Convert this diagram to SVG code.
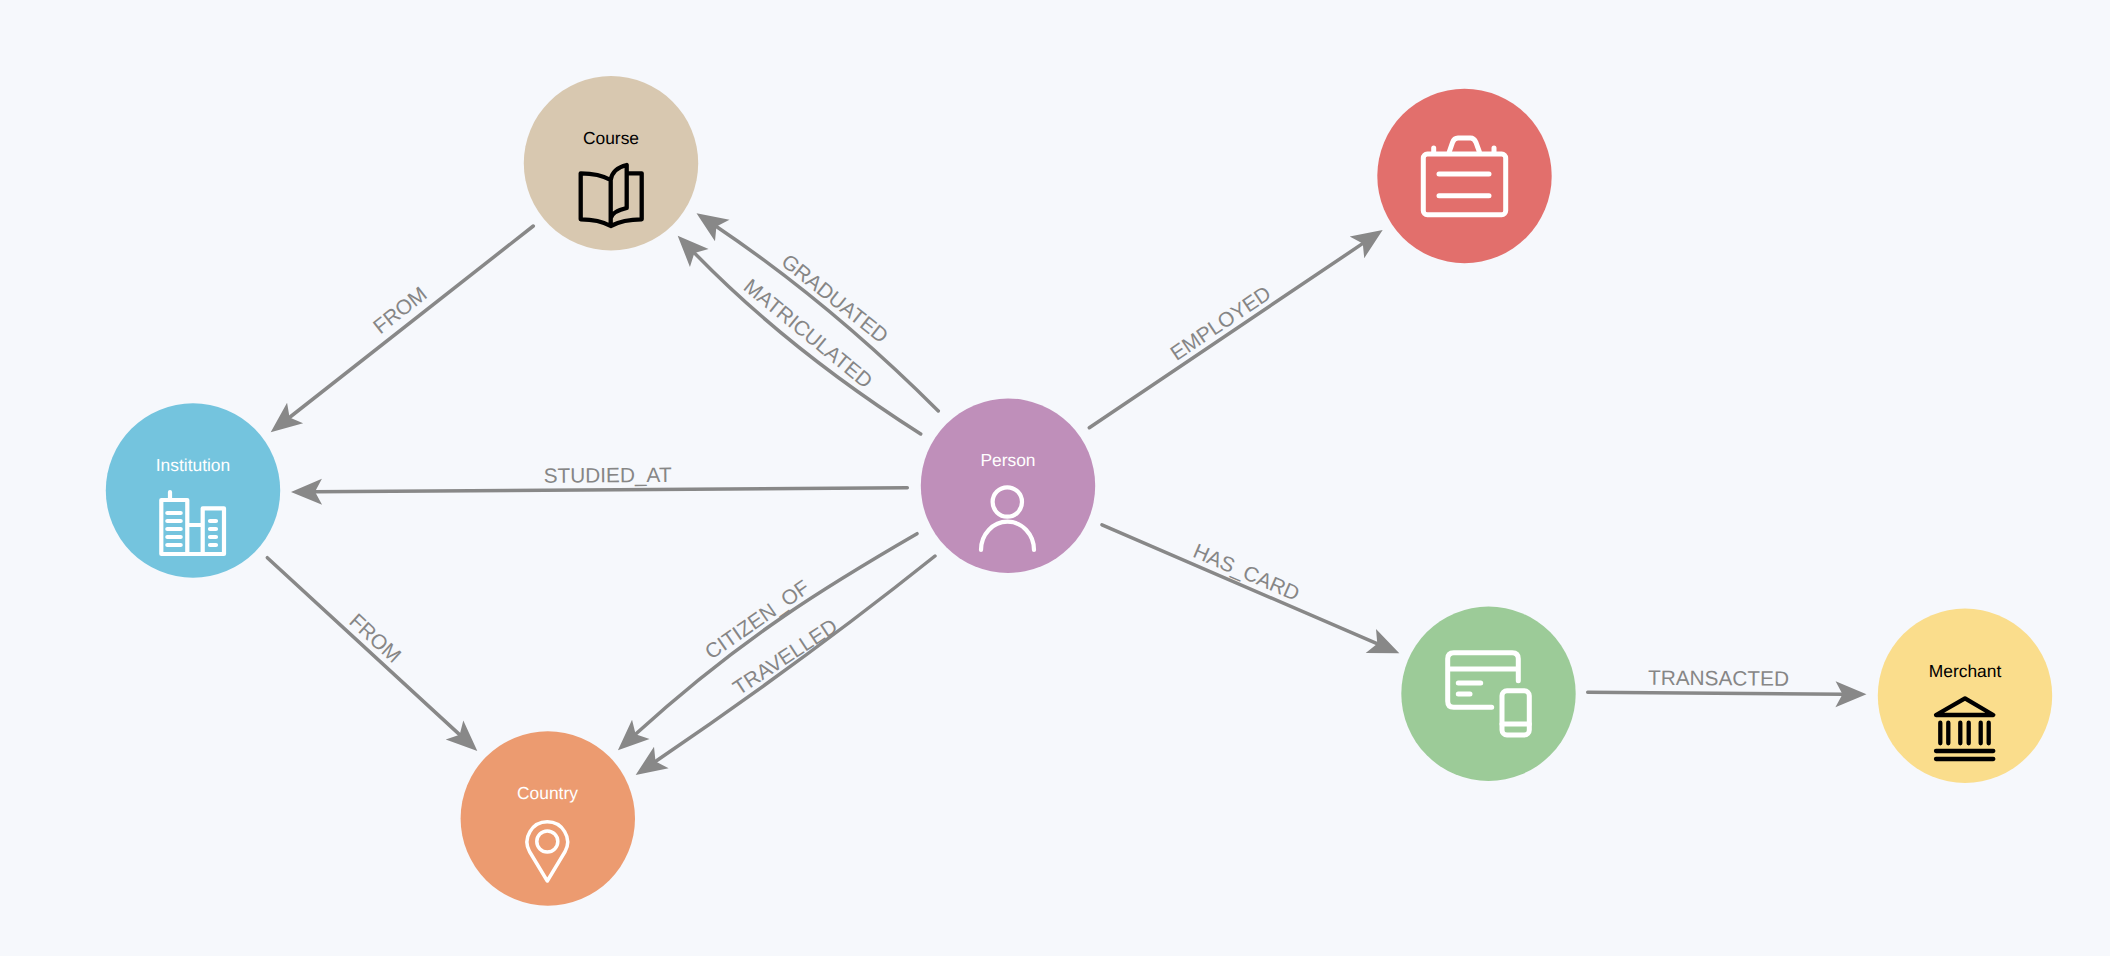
<svg xmlns="http://www.w3.org/2000/svg" width="2110" height="956" viewBox="0 0 2110 956">
<style>
text{font-family:"Liberation Sans",Arial,sans-serif;text-rendering:geometricPrecision}
.n{font-size:17.4px;text-anchor:middle}
.w{fill:#fff}
.k{fill:#000}
.l{font-size:20.8px;fill:#868686;text-anchor:middle}
.c{fill:none;stroke:#888;stroke-width:3.500;stroke-linecap:round;marker-end:url(#a)}
.iw{fill:none;stroke:#fff;stroke-width:4.200;stroke-linecap:round;stroke-linejoin:round}
.ik{fill:none;stroke:#000;stroke-width:4.300;stroke-linecap:round;stroke-linejoin:round}
</style>
<defs>
<marker id="a" markerUnits="userSpaceOnUse" markerWidth="40" markerHeight="32" refX="10" refY="16" orient="auto">
<path d="M33 16L2 3L9 16L2 29Z" fill="#888"/>
</marker>
</defs>
<rect width="2110" height="956" fill="#f6f8fc"/>
<g id="connectors">
<path class="c" d="M533.300 226L288.800 418"/>
<path class="c" d="M267.300 557.700L460.400 735.400"/>
<path class="c" d="M907.300 487.700L314 491.800"/>
<path class="c" d="M938.300 411Q830 303 715.600 226"/>
<path class="c" d="M920.700 434Q787.600 349 693.700 252.200"/>
<path class="c" d="M917 533.700C830 584 742 637 634.900 734.800"/>
<path class="c" d="M935 556C880 600 790 670 654.700 762"/>
<path class="c" d="M1089.300 427.700L1363.600 242.900"/>
<path class="c" d="M1102 524.800L1378.200 644.200"/>
<path class="c" d="M1587.700 692.300L1843.500 694.200"/>
<text class="l" transform="translate(399.700 310) rotate(-38.200)" dy=".35em">FROM</text>
<text class="l" transform="translate(375.400 638) rotate(42.600)" dy=".35em">FROM</text>
<text class="l" transform="translate(607.600 475) rotate(-.4)" dy=".35em">STUDIED_AT</text>
<text class="l" transform="translate(835 298.300) rotate(38.400)" dy=".35em">GRADUATED</text>
<text class="l" transform="translate(808.300 333.300) rotate(39.300)" dy=".35em">MATRICULATED</text>
<text class="l" transform="translate(757 619.500) rotate(-34.800)" dy=".35em">CITIZEN_OF</text>
<text class="l" transform="translate(785 656.700) rotate(-33.500)" dy=".35em">TRAVELLED</text>
<text class="l" transform="translate(1220.500 323) rotate(-33.800)" dy=".35em">EMPLOYED</text>
<text class="l" transform="translate(1246.500 572) rotate(23.400)" dy=".35em">HAS_CARD</text>
<text class="l" transform="translate(1718.500 678) rotate(.4)" dy=".35em">TRANSACTED</text>
</g>
<g id="course">
<circle cx="611" cy="163.300" r="87.200" fill="#d8c8b0"/>
<text class="n k" x="611" y="143.600">Course</text>
<path class="ik" d="M610.700 180C602 175 592 173.300 580.700 173.300V219.300C592 219.300 602 221 610.700 226C620 221 630 219.300 641.700 219.300V173.300H627.700M610.700 226V180C612 172 618 167 626.700 165V208C618 210 612 213 610.700 218.300"/>
</g>
<g id="institution">
<circle cx="193" cy="490.500" r="87.200" fill="#74c4de"/>
<text class="n w" x="193" y="471">Institution</text>
<path class="iw" d="M170 492V500M161.300 500H187.300V554H161.300ZM202.700 508.300H224V554H202.700ZM187.300 525H202.700M187.300 554H202.700"/>
<path class="iw" d="M167.300 513H180.700M167.300 521H180.700M167.300 529H180.700M167.300 537H180.700M167.300 545H180.700M210 521H216M210 529H216M210 537H216M210 545H216"/>
</g>
<g id="country">
<circle cx="547.800" cy="818.500" r="87.200" fill="#ec9b70"/>
<text class="n w" x="547.500" y="799">Country</text>
<path class="iw" style="stroke-width:3.500" d="M547.300 881L529.500 851.500A20.200 20.200 0 1 1 565.100 851.500Z"/>
<circle class="iw" style="stroke-width:3.500" cx="547.300" cy="841.500" r="10.500"/>
</g>
<g id="person">
<circle cx="1008" cy="485.700" r="87.200" fill="#bf8fba"/>
<text class="n w" x="1008" y="466.300">Person</text>
<circle class="iw" cx="1007.300" cy="502" r="14.700"/>
<path class="iw" d="M981 550A26.500 28.300 0 0 1 1034 550"/>
</g>
<g id="employed">
<circle cx="1464.500" cy="176" r="87.200" fill="#e26f6c"/>
<g class="iw" style="stroke-width:5">
<rect x="1423.300" y="154" width="82.400" height="60.700" rx="4"/>
<path d="M1439 174H1489M1439 195.700H1489M1449.300 151.700L1452.500 142.500Q1454 138 1458 138H1470.500Q1474 138 1476 142.500L1479.300 151.700M1433.700 148V153M1494 148V153"/>
</g>
</g>
<g id="card">
<circle cx="1488.500" cy="693.700" r="87.200" fill="#9ccb98"/>
<g class="iw" style="stroke-width:5">
<path d="M1491.700 707.300H1453.700Q1447.700 707.300 1447.700 701.300V658.700Q1447.700 652.700 1453.700 652.700H1512.300Q1518.300 652.700 1518.300 658.700V680.700M1447.700 669H1518.300M1458.300 683H1480.700M1458.300 694H1470"/>
<rect x="1502" y="690.700" width="27.300" height="44.300" rx="5"/>
<path d="M1502 724H1529.300"/>
</g>
</g>
<g id="merchant">
<circle cx="1965" cy="695.700" r="87.200" fill="#fadd8c"/>
<text class="n k" x="1965" y="677.300">Merchant</text>
<path class="ik" d="M1936 715L1965 698.300L1993.300 715ZM1940.300 722.700V743.300M1948.300 722.700V743.300M1960.300 722.700V743.300M1968.700 722.700V743.300M1980.700 722.700V743.300M1988.700 722.700V743.300M1936 751H1993.300M1936 759H1993.300"/>
</g>
</svg>
